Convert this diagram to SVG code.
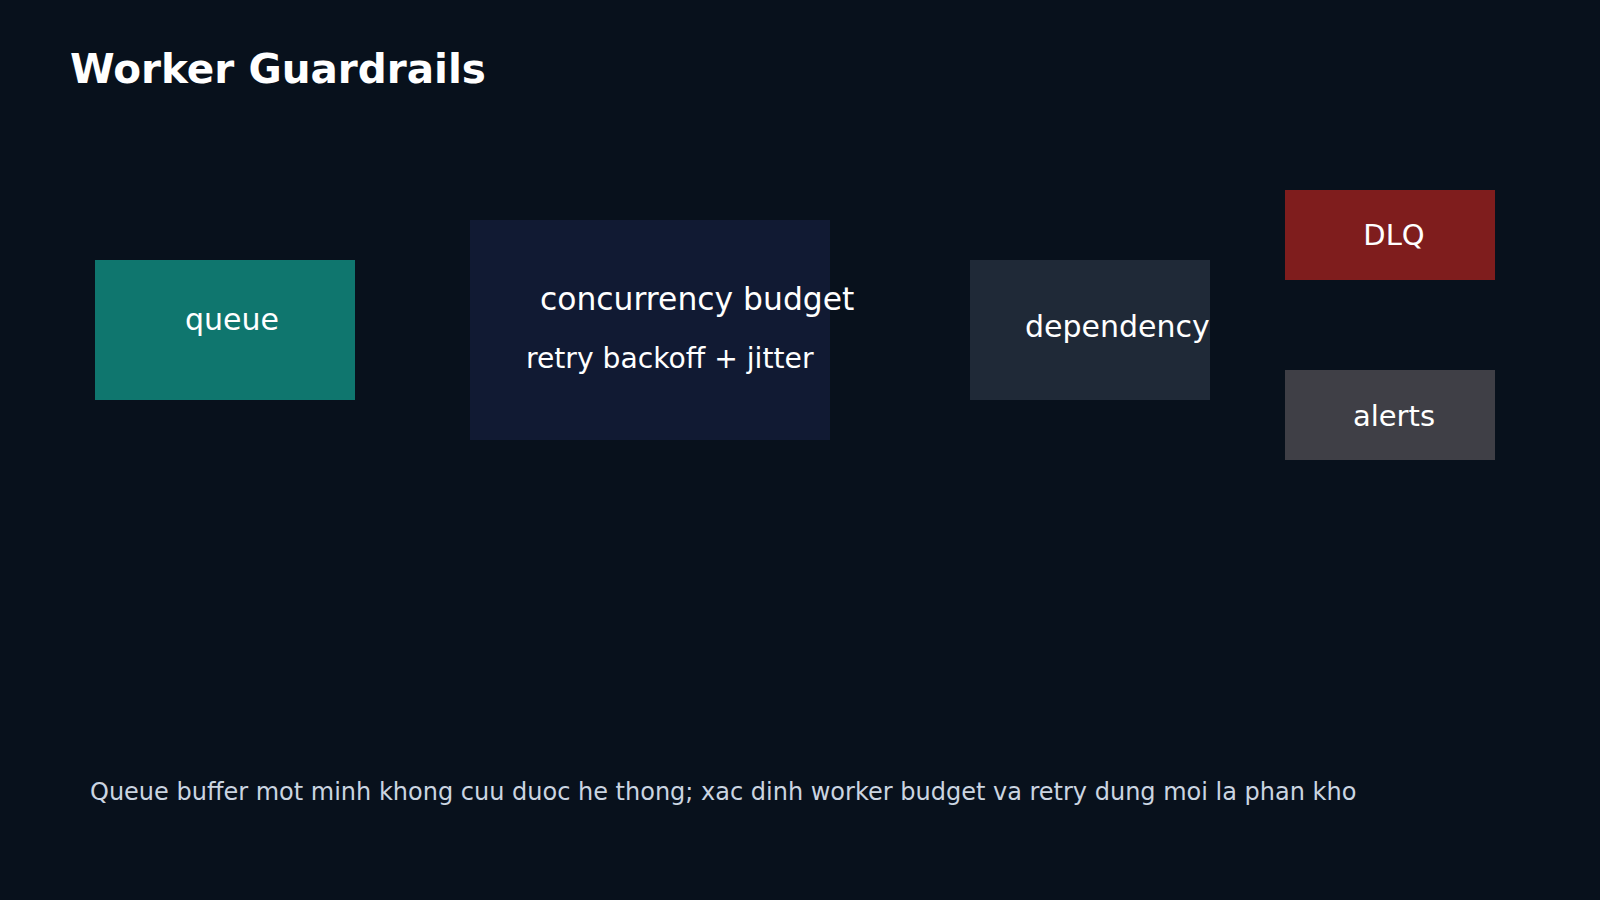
<svg xmlns="http://www.w3.org/2000/svg" width="1600" height="900" viewBox="0 0 1600 900">
  <style>
    .lbl { font-family: "DejaVu Sans", "Noto Sans", sans-serif; fill: #ffffff; }
    .title { font-family: "DejaVu Sans", "Noto Sans", sans-serif; font-weight: bold; font-size: 40.5px; fill: #ffffff; }
    .foot { font-family: "DejaVu Sans", "Noto Sans", sans-serif; font-size: 24px; fill: #cbd5e1; }
  </style>
  <rect x="0" y="0" width="1600" height="900" fill="#08111c"/>
  <text class="title" x="70" y="83">Worker Guardrails</text>
  <g id="connectors"></g>
  <g id="queue">
    <rect x="95" y="260" width="260" height="140" fill="#0f766e"/>
    <text class="lbl" x="232" y="330" font-size="30" text-anchor="middle">queue</text>
  </g>
  <g id="concurrency">
    <rect x="470" y="220" width="360" height="220" fill="#111a33"/>
    <text class="lbl" x="540" y="310" font-size="31.4">concurrency budget</text>
    <text class="lbl" x="526" y="368" font-size="28.2">retry backoff + jitter</text>
  </g>
  <g id="dependency">
    <rect x="970" y="260" width="240" height="140" fill="#1f2937"/>
    <text class="lbl" x="1025" y="337" font-size="30">dependency</text>
  </g>
  <g id="dlq">
    <rect x="1285" y="190" width="210" height="90" fill="#7f1d1d"/>
    <text class="lbl" x="1394" y="245" font-size="29" text-anchor="middle">DLQ</text>
  </g>
  <g id="alerts">
    <rect x="1285" y="370" width="210" height="90" fill="#3f3f46"/>
    <text class="lbl" x="1394" y="426" font-size="29" text-anchor="middle">alerts</text>
  </g>
  <text class="foot" x="90" y="800">Queue buffer mot minh khong cuu duoc he thong; xac dinh worker budget va retry dung moi la phan kho</text>
</svg>
